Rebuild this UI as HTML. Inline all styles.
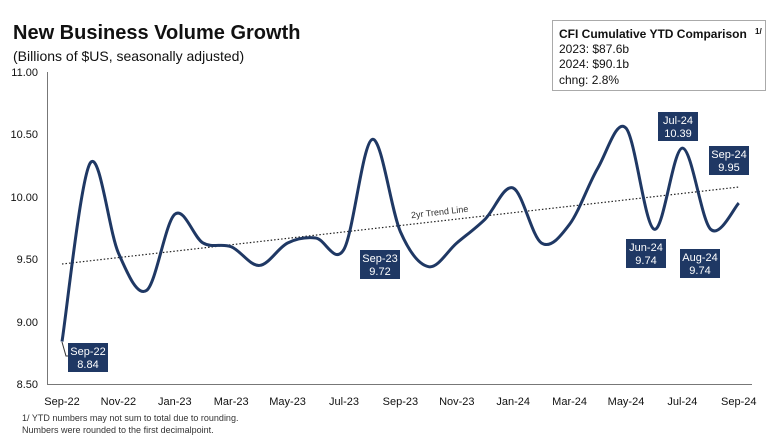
<!DOCTYPE html>
<html><head><meta charset="utf-8"><style>
body{margin:0;background:#fff;}
svg{display:block;font-family:"Liberation Sans",sans-serif;}
</style></head><body>
<svg id="s" width="773" height="447" viewBox="0 0 773 447">
<text x="13" y="39" font-size="20" font-weight="bold" fill="#111">New Business Volume Growth</text>
<text x="13" y="61" font-size="14" fill="#111">(Billions of $US, seasonally adjusted)</text>
<rect x="552.5" y="20.5" width="213" height="70" fill="#fff" stroke="#aaa"/>
<text x="559" y="38" font-size="12" font-weight="bold" fill="#111">CFI Cumulative YTD Comparison</text>
<text x="755" y="34" font-size="8" font-weight="bold" fill="#111">1/</text>
<text x="559" y="53" font-size="12" fill="#111">2023: $87.6b</text>
<text x="559" y="68" font-size="12" fill="#111">2024: $90.1b</text>
<text x="559" y="84" font-size="12" fill="#111">chng: 2.8%</text>
<g font-size="11" fill="#111" text-anchor="end">
<text x="38" y="76">11.00</text><text x="38" y="138">10.50</text><text x="38" y="201">10.00</text>
<text x="38" y="263">9.50</text><text x="38" y="326">9.00</text><text x="38" y="388">8.50</text>
</g>
<g font-size="11" fill="#111" text-anchor="middle" id="xl"></g>
<line x1="47.5" y1="72" x2="47.5" y2="384.5" stroke="#777"/>
<line x1="47" y1="384.5" x2="752" y2="384.5" stroke="#777"/>
<line x1="62" y1="264" x2="739" y2="187" stroke="#222" stroke-width="1.2" stroke-dasharray="1.5,2"/>
<text x="440" y="215" font-size="9" fill="#333" text-anchor="middle" transform="rotate(-6.5 440 215)">2yr Trend Line</text>
<path id="ln" fill="none" stroke="#1f3864" stroke-width="3"/>
<g id="lb" font-size="11" fill="#fff" text-anchor="middle"></g>
<text x="22" y="421" font-size="9" fill="#333">1/ YTD numbers may not sum to total due to rounding.</text>
<text x="22" y="433" font-size="9" fill="#333">Numbers were rounded to the first decimalpoint.</text>
</svg>
<script>
var v=[8.84,10.27,9.55,9.25,9.86,9.63,9.60,9.45,9.63,9.67,9.58,10.46,9.72,9.44,9.63,9.82,10.07,9.63,9.78,10.23,10.55,9.74,10.39,9.74,9.95];
function X(i){return 62+i*28.2}function Y(t){return 384-(t-8.5)*124.8}
var p=v.map(function(t,i){return[X(i),Y(t)]});
var d="M"+p[0];
for(var i=0;i<p.length-1;i++){var a=p[i-1]||p[i],b=p[i],c=p[i+1],e=p[i+2]||c;
d+=" C"+(b[0]+(c[0]-a[0])/6)+","+(b[1]+(c[1]-a[1])/6)+" "+(c[0]-(e[0]-b[0])/6)+","+(c[1]-(e[1]-b[1])/6)+" "+c[0]+","+c[1];}
document.getElementById("ln").setAttribute("d",d);
var m=["Sep-22","Nov-22","Jan-23","Mar-23","May-23","Jul-23","Sep-23","Nov-23","Jan-24","Mar-24","May-24","Jul-24","Sep-24"];
var h="";m.forEach(function(s,k){h+='<text x="'+X(k*2)+'" y="405">'+s+'</text>'});
document.getElementById("xl").innerHTML=h;
var L=[["Sep-22","8.84",68,343],["Sep-23","9.72",360,250],["Jun-24","9.74",626,239],["Jul-24","10.39",658,112],["Aug-24","9.74",680,249],["Sep-24","9.95",709,146]];
var g='<polyline points="62,342 66,356 68,356" fill="none" stroke="#333"/>';
L.forEach(function(l){g+='<rect x="'+l[2]+'" y="'+l[3]+'" width="40" height="29" fill="#1f3864"/><text x="'+(l[2]+20)+'" y="'+(l[3]+12)+'">'+l[0]+'</text><text x="'+(l[2]+20)+'" y="'+(l[3]+25)+'">'+l[1]+'</text>'});
document.getElementById("lb").innerHTML=g;
</script>
</body></html>
